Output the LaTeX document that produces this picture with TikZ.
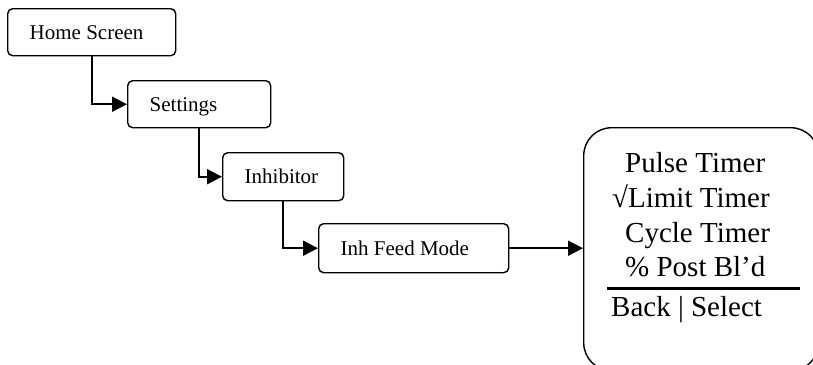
\documentclass[tikz,border=0pt]{standalone}
\usepackage{fontspec}
\setmainfont{Liberation Serif}
\usetikzlibrary{arrows.meta}
\tikzset{
  menubox/.style={draw, line width=1.4pt, rounded corners=5pt, anchor=north west,
    inner xsep=22pt, inner ysep=0pt, align=flush left, text height=14pt, text depth=0pt,
    font=\fontsize{21}{25}\selectfont},
  conn/.style={line width=1.8pt, -{Triangle[length=15pt,width=15pt]}},
  screenbox/.style={draw, line width=1.4pt, rounded corners=28pt, anchor=north west,
    minimum width=235pt, minimum height=243pt, inner sep=0pt},
  scrtext/.style={anchor=base west, inner sep=0pt, font=\fontsize{29}{35}\selectfont}
}
\begin{document}
\begin{tikzpicture}[x=1pt,y=-1pt]
\useasboundingbox (0,0) rectangle (813,364);
\clip (0,0) rectangle (813,364);
\node[menubox, minimum width=168pt, minimum height=47pt, text width=124pt] (home) at (7,8) {Home Screen};
\node[menubox, minimum width=143pt, minimum height=47pt, text width=99pt] (settings) at (127,80) {Settings};
\node[menubox, minimum width=121pt, minimum height=48pt, text width=77pt] (inhib) at (222,152) {Inhibitor};
\node[menubox, minimum width=190pt, minimum height=49pt, text width=146pt] (feed) at (318,223) {Inh Feed Mode};
\node[screenbox] (screen) at (583,127) {};
\draw[conn] (home.south) |- (settings.west);
\draw[conn] (settings.south) |- (inhib.west);
\draw[conn] (inhib.south) |- (feed.west);
\draw[conn] (feed.east) -- (feed.east -| screen.west);
\node[scrtext] (l1) at (625,172) {Pulse Timer};
\node[scrtext] (l2) at (612,207) {√Limit Timer};
\node[scrtext] (l3) at (625,242) {Cycle Timer};
\node[scrtext] (l4) at (625,276) {\% Post Bl’d};
\draw[line width=3pt] (607,288) -- (800,288);
\node[scrtext] (l5) at (611,316) {Back | Select};
\end{tikzpicture}
\end{document}
